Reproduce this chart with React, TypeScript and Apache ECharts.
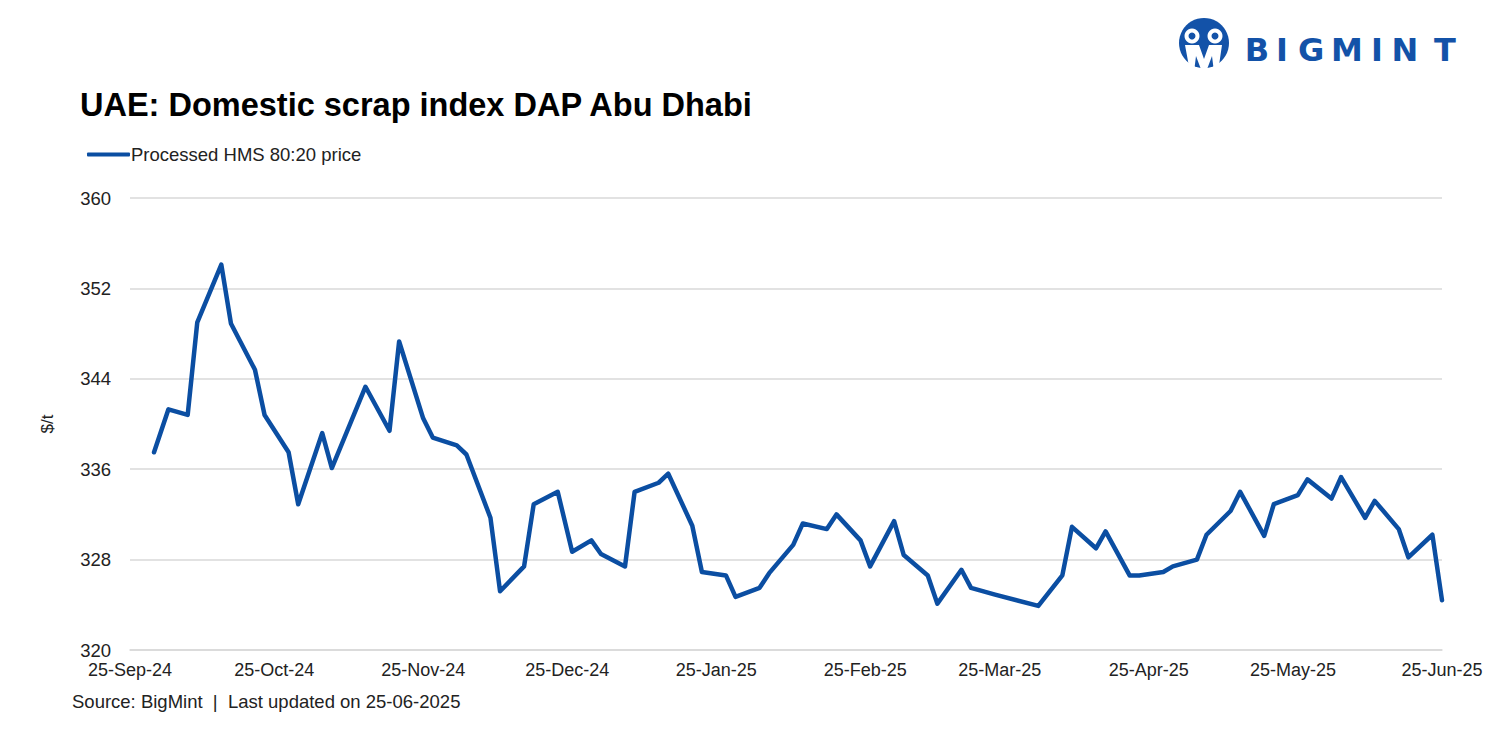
import React, { useEffect, useRef } from "react";
import * as echarts from "echarts";

const dates: string[] = [
  "2024-09-30", "2024-10-03", "2024-10-07", "2024-10-09", "2024-10-14", "2024-10-16", "2024-10-21", "2024-10-23", "2024-10-28", "2024-10-30",
  "2024-11-04", "2024-11-06", "2024-11-13", "2024-11-18", "2024-11-20", "2024-11-25", "2024-11-27",
  "2024-12-02", "2024-12-04", "2024-12-09", "2024-12-11", "2024-12-16", "2024-12-18", "2024-12-23", "2024-12-26", "2024-12-30",
  "2025-01-01", "2025-01-06", "2025-01-08", "2025-01-13", "2025-01-15", "2025-01-20", "2025-01-22", "2025-01-27", "2025-01-29",
  "2025-02-03", "2025-02-05", "2025-02-10", "2025-02-12", "2025-02-17", "2025-02-19", "2025-02-24", "2025-02-26",
  "2025-03-03", "2025-03-05", "2025-03-10", "2025-03-12", "2025-03-17", "2025-03-19", "2025-03-24",
  "2025-04-02", "2025-04-07", "2025-04-09", "2025-04-14", "2025-04-16", "2025-04-21", "2025-04-23", "2025-04-28", "2025-04-30",
  "2025-05-05", "2025-05-07", "2025-05-12", "2025-05-14", "2025-05-19", "2025-05-21", "2025-05-26", "2025-05-28",
  "2025-06-02", "2025-06-04", "2025-06-09", "2025-06-11", "2025-06-16", "2025-06-18", "2025-06-23", "2025-06-25",
];

const prices: number[] = [
  337.5, 341.3, 340.8, 349.0, 354.1, 348.9, 344.8, 340.8, 337.5, 332.9,
  339.2, 336.1, 343.3, 339.4, 347.3, 340.5, 338.8,
  338.1, 337.3, 331.7, 325.2, 327.4, 332.9, 334.0, 328.7, 329.7,
  328.5, 327.4, 334.0, 334.8, 335.6, 331.0, 326.9, 326.6, 324.7,
  325.5, 326.8, 329.3, 331.2, 330.7, 332.0, 329.7, 327.4,
  331.4, 328.4, 326.6, 324.1, 327.1, 325.5, 324.9,
  323.9, 326.6, 330.9, 329.0, 330.5, 326.6, 326.6, 326.9, 327.4,
  328.0, 330.2, 332.3, 334.0, 330.1, 332.9, 333.7, 335.1,
  333.4, 335.3, 331.7, 333.2, 330.7, 328.2, 330.2, 324.4,
];

const tickDates: string[] = [
  "2024-09-25", "2024-10-25", "2024-11-25", "2024-12-25", "2025-01-25", "2025-02-25",
  "2025-03-25", "2025-04-25", "2025-05-25", "2025-06-25",
];

const monthNames: string[] = ["Jan", "Feb", "Mar", "Apr", "May", "Jun", "Jul", "Aug", "Sep", "Oct", "Nov", "Dec"];

const yMin = 320;
const yMax = 360;
const yStep = 8;

const seriesName = "Processed HMS 80:20 price";
const titleText = "UAE: Domestic scrap index DAP Abu Dhabi";
const sourceText = "Source: BigMint  |  Last updated on 25-06-2025";
const logoLetters: string[] = ["B", "I", "G", "M", "I", "N", "T"];
const logoLetterX: number[] = [1249, 1274, 1303, 1339, 1369, 1397, 1437];

const FONT = "'Liberation Sans', Arial, Helvetica, sans-serif";
const LOGO_FONT = "'DejaVu Sans', 'Liberation Sans', sans-serif";
const BLUE = "#0b4ea2";
const LOGO_BLUE = "#1352a8";

function parseDay(s: string): number {
  const [y, m, d] = s.split("-").map(Number);
  return Date.UTC(y, m - 1, d);
}

export default function App() {
  const ref = useRef<HTMLDivElement>(null);

  useEffect(() => {
    if (!ref.current) return;
    const chart = echarts.init(ref.current, null, { renderer: "svg" });
    const data = dates.map((d, i) => [parseDay(d), prices[i]]);
    const ticks = tickDates.map(parseDay);

    const cx = 1196;
    const cy = 35;

    const logoGraphics: any[] = logoLetters.map((ch, i) => ({
      type: "text",
      x: logoLetterX[i],
      y: 42,
      style: {
        text: ch,
        fill: LOGO_BLUE,
        font: `bold 32px ${LOGO_FONT}`,
        align: "center",
        verticalAlign: "middle",
      },
    }));

    chart.setOption({
      animation: false,
      backgroundColor: "#ffffff",
      grid: { left: 122, right: 50, top: 190, bottom: 92, containLabel: false },
      legend: {
        left: 74,
        top: 132,
        icon: "roundRect",
        itemWidth: 43,
        itemHeight: 4,
        itemGap: 10,
        textStyle: { fontFamily: FONT, fontSize: 18.5, color: "#222", padding: [0, 0, 0, -4] },
        data: [seriesName],
      },
      xAxis: {
        type: "value",
        min: ticks[0],
        max: ticks[ticks.length - 1],
        axisLine: { show: true, lineStyle: { color: "#d9d9d9", width: 1.5 } },
        axisTick: { show: false },
        splitLine: { show: false },
        axisLabel: {
          customValues: ticks,
          showMinLabel: true,
          showMaxLabel: true,
          margin: 11,
          fontFamily: FONT,
          fontSize: 18,
          color: "#222",
          formatter: (v: number) => {
            const d = new Date(v);
            return `${d.getUTCDate()}-${monthNames[d.getUTCMonth()]}-${String(d.getUTCFullYear()).slice(2)}`;
          },
        },
      },
      yAxis: {
        type: "value",
        min: yMin,
        max: yMax,
        interval: yStep,
        axisLine: { show: false },
        axisTick: { show: false },
        splitLine: { show: true, lineStyle: { color: "#d9d9d9", width: 1.5 } },
        axisLabel: { margin: 19, fontFamily: FONT, fontSize: 18.5, color: "#222" },
      },
      series: [
        {
          name: seriesName,
          type: "line",
          data,
          showSymbol: false,
          symbol: "none",
          lineStyle: { color: BLUE, width: 4.5, cap: "round", join: "round" },
          itemStyle: { color: BLUE },
        },
      ],
      graphic: [
        {
          type: "text",
          x: 72,
          y: 97,
          style: {
            text: titleText,
            fill: "#000",
            font: `bold 32.5px ${FONT}`,
            verticalAlign: "middle",
          },
        },
        {
          type: "text",
          x: 39,
          y: 416,
          rotation: Math.PI / 2,
          style: {
            text: "$/t",
            fill: "#222",
            font: `17px ${FONT}`,
            align: "center",
            verticalAlign: "middle",
          },
        },
        {
          type: "text",
          x: 64,
          y: 693,
          style: {
            text: sourceText,
            fill: "#222",
            font: `18.5px ${FONT}`,
            verticalAlign: "middle",
          },
        },
        { type: "circle", shape: { cx, cy, r: 25 }, style: { fill: LOGO_BLUE } },
        { type: "circle", shape: { cx: cx - 12, cy: cy - 7, r: 7.5 }, style: { fill: "#fff" } },
        { type: "circle", shape: { cx: cx + 11, cy: cy - 7, r: 7.5 }, style: { fill: "#fff" } },
        { type: "circle", shape: { cx: cx - 12, cy: cy - 7, r: 3.5 }, style: { fill: LOGO_BLUE } },
        { type: "circle", shape: { cx: cx + 11, cy: cy - 7, r: 3.5 }, style: { fill: LOGO_BLUE } },
        {
          type: "polygon",
          shape: {
            points: [
              [cx - 19, cy + 2], [cx - 5, cy + 2], [cx, cy + 16], [cx + 5, cy + 2], [cx + 18, cy + 2],
              [cx + 14, cy + 29], [cx + 10, cy + 29], [cx + 8, cy + 13], [cx + 2, cy + 29],
              [cx - 2, cy + 29], [cx - 8, cy + 13], [cx - 10, cy + 29], [cx - 14, cy + 29],
            ],
          },
          style: { fill: "#fff" },
        },
        ...logoGraphics,
      ],
    });

    return () => chart.dispose();
  }, []);

  return <div ref={ref} style={{ width: 1484, height: 734 }} />;
}
